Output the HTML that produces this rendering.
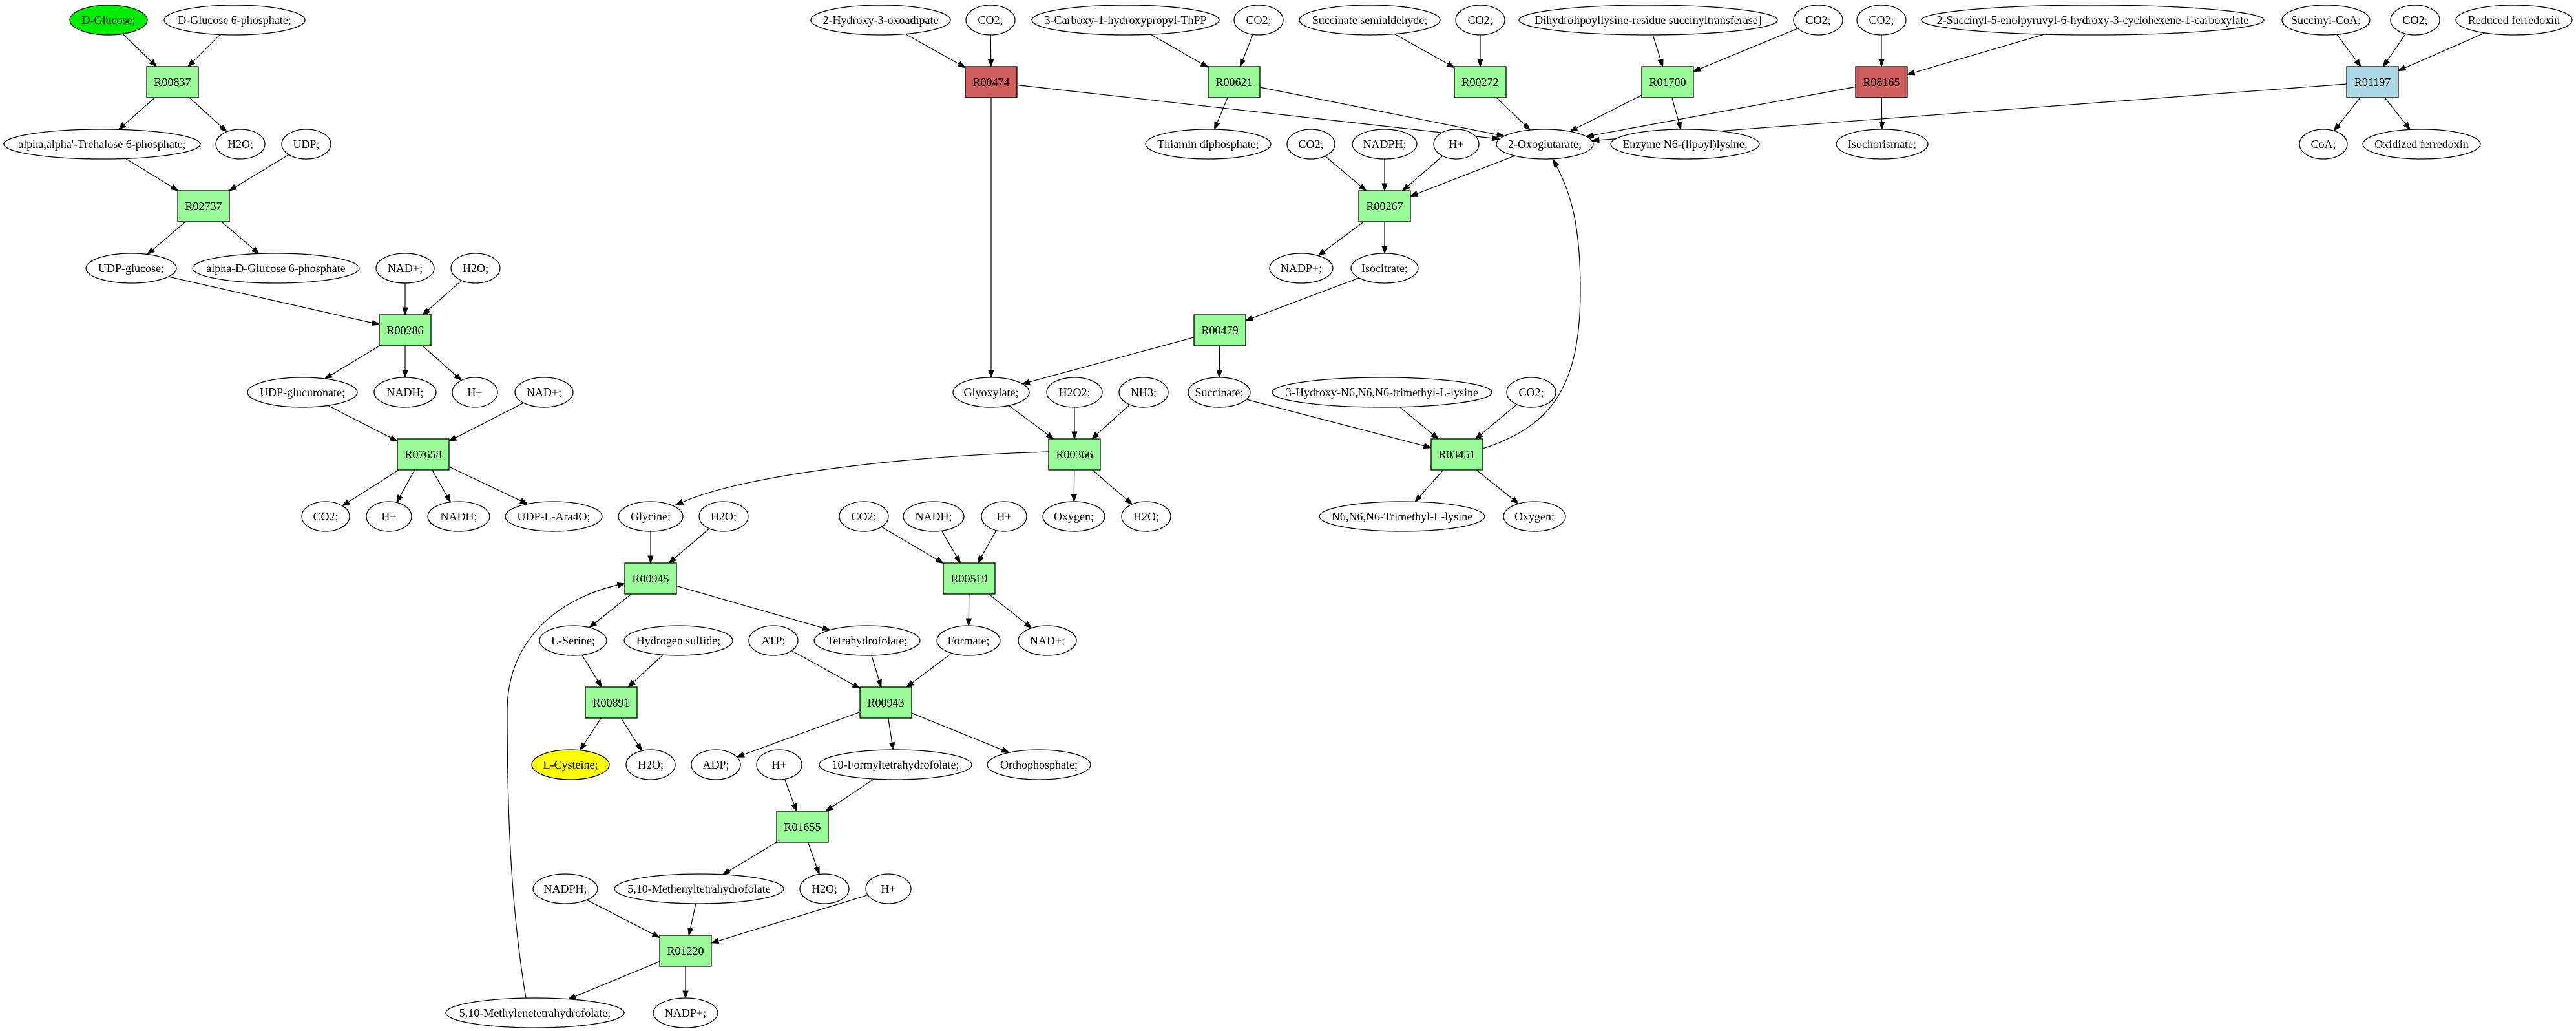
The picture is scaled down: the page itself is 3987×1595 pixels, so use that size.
<!DOCTYPE html>
<html><head><meta charset="utf-8"><style>
html,body{margin:0;padding:0;background:#fff;}
svg{display:block}
text{font-family:"Liberation Serif",serif;font-size:18px;text-anchor:middle;fill:#000}
ellipse,rect{stroke:#000;stroke-width:1.3}
ellipse{fill:#fff}
.g{fill:#98fb98}.r{fill:#cd5c5c}.b{fill:#add8e6}
</style></head><body>
<svg id="s" width="3987" height="1595" viewBox="0 0 3987 1595" xmlns="http://www.w3.org/2000/svg">
<g id="edges" stroke="#000" stroke-width="1.2" fill="none"></g>
<g id="arrows" fill="#000" stroke="#000" stroke-width="1"></g>
<g id="nodes">
<ellipse id="e1" cx="168" cy="31" rx="60" ry="23" style="fill:#00ee00"/><text x="168" y="37">D-Glucose;</text>
<ellipse id="e2" cx="363" cy="31" rx="109" ry="23"/><text x="363" y="37">D-Glucose 6-phosphate;</text>
<rect id="b1" class="g" x="227" y="103" width="80" height="48"/><text x="267" y="133">R00837</text>
<ellipse id="e3" cx="158" cy="223" rx="152" ry="23"/><text x="158" y="229">alpha,alpha'-Trehalose 6-phosphate;</text>
<ellipse id="e4" cx="372" cy="223" rx="38" ry="23"/><text x="372" y="229">H2O;</text>
<ellipse id="e5" cx="474" cy="223" rx="38" ry="23"/><text x="474" y="229">UDP;</text>
<rect id="b2" class="g" x="275" y="295" width="80" height="48"/><text x="315" y="325">R02737</text>
<ellipse id="e6" cx="203" cy="415" rx="70" ry="23"/><text x="203" y="421">UDP-glucose;</text>
<ellipse id="e7" cx="427" cy="415" rx="129" ry="23"/><text x="427" y="421">alpha-D-Glucose 6-phosphate</text>
<ellipse id="e8" cx="627" cy="415" rx="45" ry="23"/><text x="627" y="421">NAD+;</text>
<ellipse id="e9" cx="736" cy="415" rx="38" ry="23"/><text x="736" y="421">H2O;</text>
<rect id="b3" class="g" x="587" y="487" width="80" height="48"/><text x="627" y="517">R00286</text>
<ellipse id="e10" cx="468" cy="607" rx="85" ry="23"/><text x="468" y="613">UDP-glucuronate;</text>
<ellipse id="e11" cx="627" cy="607" rx="48" ry="23"/><text x="627" y="613">NADH;</text>
<ellipse id="e12" cx="735" cy="607" rx="35" ry="23"/><text x="735" y="613">H+</text>
<ellipse id="e13" cx="842" cy="607" rx="45" ry="23"/><text x="842" y="613">NAD+;</text>
<rect id="b4" class="g" x="615" y="679" width="80" height="48"/><text x="655" y="709">R07658</text>
<ellipse id="e14" cx="504" cy="799" rx="37" ry="23"/><text x="504" y="805">CO2;</text>
<ellipse id="e15" cx="602" cy="799" rx="35" ry="23"/><text x="602" y="805">H+</text>
<ellipse id="e16" cx="710" cy="799" rx="48" ry="23"/><text x="710" y="805">NADH;</text>
<ellipse id="e17" cx="857" cy="799" rx="75" ry="23"/><text x="857" y="805">UDP-L-Ara4O;</text>
<ellipse id="e18" cx="1007" cy="799" rx="50" ry="23"/><text x="1007" y="805">Glycine;</text>
<ellipse id="e19" cx="1120" cy="799" rx="38" ry="23"/><text x="1120" y="805">H2O;</text>
<rect id="b5" class="g" x="967" y="871" width="80" height="48"/><text x="1007" y="901">R00945</text>
<ellipse id="e20" cx="1337" cy="799" rx="38" ry="23"/><text x="1337" y="805">CO2;</text>
<ellipse id="e21" cx="1445" cy="799" rx="47" ry="23"/><text x="1445" y="805">NADH;</text>
<ellipse id="e22" cx="1554" cy="799" rx="35" ry="23"/><text x="1554" y="805">H+</text>
<ellipse id="e23" cx="1662" cy="799" rx="48" ry="23"/><text x="1662" y="805">Oxygen;</text>
<ellipse id="e24" cx="1774" cy="799" rx="38" ry="23"/><text x="1774" y="805">H2O;</text>
<rect id="b6" class="g" x="1460" y="871" width="80" height="48"/><text x="1500" y="901">R00519</text>
<ellipse id="e25" cx="887" cy="991" rx="52" ry="23"/><text x="887" y="997">L-Serine;</text>
<ellipse id="e26" cx="1050" cy="991" rx="84" ry="23"/><text x="1050" y="997">Hydrogen sulfide;</text>
<ellipse id="e27" cx="1197" cy="991" rx="38" ry="23"/><text x="1197" y="997">ATP;</text>
<ellipse id="e28" cx="1342" cy="991" rx="82" ry="23"/><text x="1342" y="997">Tetrahydrofolate;</text>
<ellipse id="e29" cx="1499" cy="991" rx="49" ry="23"/><text x="1499" y="997">Formate;</text>
<ellipse id="e30" cx="1621" cy="991" rx="45" ry="23"/><text x="1621" y="997">NAD+;</text>
<rect id="b7" class="g" x="906" y="1063" width="80" height="48"/><text x="946" y="1093">R00891</text>
<rect id="b8" class="g" x="1331" y="1063" width="80" height="48"/><text x="1371" y="1093">R00943</text>
<ellipse id="e31" cx="883" cy="1183" rx="60" ry="23" style="fill:#ffff00"/><text x="883" y="1189">L-Cysteine;</text>
<ellipse id="e32" cx="1007" cy="1183" rx="38" ry="23"/><text x="1007" y="1189">H2O;</text>
<ellipse id="e33" cx="1108" cy="1183" rx="38" ry="23"/><text x="1108" y="1189">ADP;</text>
<ellipse id="e34" cx="1206" cy="1183" rx="35" ry="23"/><text x="1206" y="1189">H+</text>
<ellipse id="e35" cx="1386" cy="1183" rx="118" ry="23"/><text x="1386" y="1189">10-Formyltetrahydrofolate;</text>
<ellipse id="e36" cx="1608" cy="1183" rx="80" ry="23"/><text x="1608" y="1189">Orthophosphate;</text>
<rect id="b9" class="g" x="1202" y="1255" width="80" height="48"/><text x="1242" y="1285">R01655</text>
<ellipse id="e37" cx="875" cy="1375" rx="50" ry="23"/><text x="875" y="1381">NADPH;</text>
<ellipse id="e38" cx="1082" cy="1375" rx="131" ry="23"/><text x="1082" y="1381">5,10-Methenyltetrahydrofolate</text>
<ellipse id="e39" cx="1276" cy="1375" rx="38" ry="23"/><text x="1276" y="1381">H2O;</text>
<ellipse id="e40" cx="1375" cy="1375" rx="35" ry="23"/><text x="1375" y="1381">H+</text>
<rect id="b10" class="g" x="1021" y="1447" width="80" height="48"/><text x="1061" y="1477">R01220</text>
<ellipse id="e41" cx="828" cy="1567" rx="138" ry="23"/><text x="828" y="1573">5,10-Methylenetetrahydrofolate;</text>
<ellipse id="e42" cx="1061" cy="1567" rx="50" ry="23"/><text x="1061" y="1573">NADP+;</text>

<ellipse id="e43" cx="1363" cy="31" rx="108" ry="23"/><text x="1363" y="37">2-Hydroxy-3-oxoadipate</text>
<ellipse id="e44" cx="1533" cy="31" rx="38" ry="23"/><text x="1533" y="37">CO2;</text>
<ellipse id="e45" cx="1742" cy="31" rx="145" ry="23"/><text x="1742" y="37">3-Carboxy-1-hydroxypropyl-ThPP</text>
<ellipse id="e46" cx="1948" cy="31" rx="38" ry="23"/><text x="1948" y="37">CO2;</text>
<ellipse id="e47" cx="2120" cy="31" rx="109" ry="23"/><text x="2120" y="37">Succinate semialdehyde;</text>
<ellipse id="e48" cx="2291" cy="31" rx="38" ry="23"/><text x="2291" y="37">CO2;</text>
<ellipse id="e49" cx="2551" cy="31" rx="200" ry="23"/><text x="2551" y="37">Dihydrolipoyllysine-residue succinyltransferase]</text>
<ellipse id="e50" cx="2814" cy="31" rx="38" ry="23"/><text x="2814" y="37">CO2;</text>
<ellipse id="e51" cx="2912" cy="31" rx="38" ry="23"/><text x="2912" y="37">CO2;</text>
<ellipse id="e52" cx="3239" cy="31" rx="265" ry="23"/><text x="3239" y="37">2-Succinyl-5-enolpyruvyl-6-hydroxy-3-cyclohexene-1-carboxylate</text>
<ellipse id="e53" cx="3600" cy="31" rx="68" ry="23"/><text x="3600" y="37">Succinyl-CoA;</text>
<ellipse id="e54" cx="3738" cy="31" rx="38" ry="23"/><text x="3738" y="37">CO2;</text>
<ellipse id="e55" cx="3891" cy="31" rx="90" ry="23"/><text x="3891" y="37">Reduced ferredoxin</text>
<rect id="b11" class="r" x="1494" y="103" width="80" height="48"/><text x="1534" y="133">R00474</text>
<rect id="b12" class="g" x="1870" y="103" width="80" height="48"/><text x="1910" y="133">R00621</text>
<rect id="b13" class="g" x="2251" y="103" width="80" height="48"/><text x="2291" y="133">R00272</text>
<rect id="b14" class="g" x="2541" y="103" width="80" height="48"/><text x="2581" y="133">R01700</text>
<rect id="b15" class="r" x="2872" y="103" width="80" height="48"/><text x="2912" y="133">R08165</text>
<rect id="b16" class="b" x="3632" y="103" width="80" height="48"/><text x="3672" y="133">R01197</text>
<ellipse id="e56" cx="1870" cy="223" rx="97" ry="23"/><text x="1870" y="229">Thiamin diphosphate;</text>
<ellipse id="e57" cx="2029" cy="223" rx="37" ry="23"/><text x="2029" y="229">CO2;</text>
<ellipse id="e58" cx="2143" cy="223" rx="50" ry="23"/><text x="2143" y="229">NADPH;</text>
<ellipse id="e59" cx="2254" cy="223" rx="35" ry="23"/><text x="2254" y="229">H+</text>
<ellipse id="e60" cx="2391" cy="223" rx="75" ry="23"/><text x="2391" y="229">2-Oxoglutarate;</text>
<ellipse id="e61" cx="2608" cy="223" rx="115" ry="23"/><text x="2608" y="229">Enzyme N6-(lipoyl)lysine;</text>
<ellipse id="e62" cx="2913" cy="223" rx="71" ry="23"/><text x="2913" y="229">Isochorismate;</text>
<ellipse id="e63" cx="3596" cy="223" rx="37" ry="23"/><text x="3596" y="229">CoA;</text>
<ellipse id="e64" cx="3748" cy="223" rx="91" ry="23"/><text x="3748" y="229">Oxidized ferredoxin</text>
<rect id="b17" class="g" x="2103" y="295" width="80" height="48"/><text x="2143" y="325">R00267</text>
<ellipse id="e65" cx="2014" cy="415" rx="49" ry="23"/><text x="2014" y="421">NADP+;</text>
<ellipse id="e66" cx="2143" cy="415" rx="52" ry="23"/><text x="2143" y="421">Isocitrate;</text>
<rect id="b18" class="g" x="1848" y="487" width="80" height="48"/><text x="1888" y="517">R00479</text>
<ellipse id="e67" cx="1534" cy="607" rx="59" ry="23"/><text x="1534" y="613">Glyoxylate;</text>
<ellipse id="e68" cx="1663" cy="607" rx="43" ry="23"/><text x="1663" y="613">H2O2;</text>
<ellipse id="e69" cx="1770" cy="607" rx="38" ry="23"/><text x="1770" y="613">NH3;</text>
<ellipse id="e70" cx="1887" cy="607" rx="48" ry="23"/><text x="1887" y="613">Succinate;</text>
<ellipse id="e71" cx="2139" cy="607" rx="170" ry="23"/><text x="2139" y="613">3-Hydroxy-N6,N6,N6-trimethyl-L-lysine</text>
<ellipse id="e72" cx="2370" cy="607" rx="38" ry="23"/><text x="2370" y="613">CO2;</text>
<rect id="b19" class="g" x="1623" y="679" width="80" height="48"/><text x="1663" y="709">R00366</text>
<rect id="b20" class="g" x="2215" y="679" width="80" height="48"/><text x="2255" y="709">R03451</text>
<ellipse id="e73" cx="2170" cy="799" rx="128" ry="23"/><text x="2170" y="805">N6,N6,N6-Trimethyl-L-lysine</text>
<ellipse id="e74" cx="2375" cy="799" rx="48" ry="23"/><text x="2375" y="805">Oxygen;</text>
</g>
</svg>
<script>
(function(){
var NS="http://www.w3.org/2000/svg";
function sh(id){var el=document.getElementById(id);
 if(el.tagName=="rect"){var x=+el.getAttribute("x"),y=+el.getAttribute("y"),w=+el.getAttribute("width"),h=+el.getAttribute("height");return {t:"r",cx:x+w/2,cy:y+h/2,a:w/2,b:h/2};}
 return {t:"e",cx:+el.getAttribute("cx"),cy:+el.getAttribute("cy"),a:+el.getAttribute("rx"),b:+el.getAttribute("ry")};}
function bp(s,dx,dy){var t;
 if(s.t=="e"){t=1/Math.sqrt((dx/s.a)*(dx/s.a)+(dy/s.b)*(dy/s.b));}
 else{var tx=dx?s.a/Math.abs(dx):1e9,ty=dy?s.b/Math.abs(dy):1e9;t=Math.min(tx,ty);}
 return [s.cx+dx*t,s.cy+dy*t];}
var E=document.getElementById("edges"),A=document.getElementById("arrows");
function arrow(tip,ux,uy){var L=11,W=4;var bx=tip[0]-ux*L,by=tip[1]-uy*L;
 var p=document.createElementNS(NS,"polygon");
 p.setAttribute("points",tip[0]+","+tip[1]+" "+(bx-uy*W)+","+(by+ux*W)+" "+(bx+uy*W)+","+(by-ux*W));A.appendChild(p);
 return [bx,by];}
function line(a,b){var A1=sh(a),B=sh(b);var dx=B.cx-A1.cx,dy=B.cy-A1.cy;
 var p0=bp(A1,dx,dy),p1=bp(B,-dx,-dy);var l=Math.hypot(p1[0]-p0[0],p1[1]-p0[1]);
 var base=arrow(p1,(p1[0]-p0[0])/l,(p1[1]-p0[1])/l);
 var ln=document.createElementNS(NS,"path");ln.setAttribute("d","M"+p0[0]+","+p0[1]+"L"+base[0]+","+base[1]);E.appendChild(ln);}
function curve(d,cx,cy,tx,ty){var l=Math.hypot(tx-cx,ty-cy);arrow([tx,ty],(tx-cx)/l,(ty-cy)/l);
 var p=document.createElementNS(NS,"path");p.setAttribute("d",d);E.appendChild(p);}
var L="e1 b1,e2 b1,b1 e3,b1 e4,e3 b2,e5 b2,b2 e6,b2 e7,e6 b3,e8 b3,e9 b3,b3 e10,b3 e11,b3 e12,e10 b4,e13 b4,b4 e14,b4 e15,b4 e16,b4 e17,"+
"e43 b11,e44 b11,b11 e60,b11 e67,e45 b12,e46 b12,b12 e56,b12 e60,e47 b13,e48 b13,b13 e60,e49 b14,e50 b14,b14 e60,b14 e61,"+
"e51 b15,e52 b15,b15 e60,b15 e62,e53 b16,e54 b16,e55 b16,b16 e60,b16 e63,b16 e64,e57 b17,e58 b17,e59 b17,e60 b17,b17 e65,b17 e66,"+
"e66 b18,b18 e67,b18 e70,e67 b19,e68 b19,e69 b19,b19 e23,b19 e24,e70 b20,e71 b20,e72 b20,b20 e73,b20 e74,"+
"e18 b5,e19 b5,b5 e25,b5 e28,e20 b6,e21 b6,e22 b6,b6 e29,b6 e30,e25 b7,e26 b7,b7 e31,b7 e32,e27 b8,e28 b8,e29 b8,b8 e33,b8 e35,b8 e36,"+
"e34 b9,e35 b9,b9 e38,b9 e39,e37 b10,e38 b10,e40 b10,b10 e41,b10 e42";
L.split(",").forEach(function(s){var p=s.split(" ");line(p[0],p[1]);});
curve("M1623,699 C1400,705 1150,735 1056,777",1150,735,1046,781);
curve("M2295,694 C2400,660 2446,600 2446,450 C2446,350 2432,300 2409,257",2432,300,2404,247);
curve("M814,1544 C790,1400 785,1250 785,1100 C785,985 870,925 956,905",870,925,967,903);
})();
</script>
</body></html>
